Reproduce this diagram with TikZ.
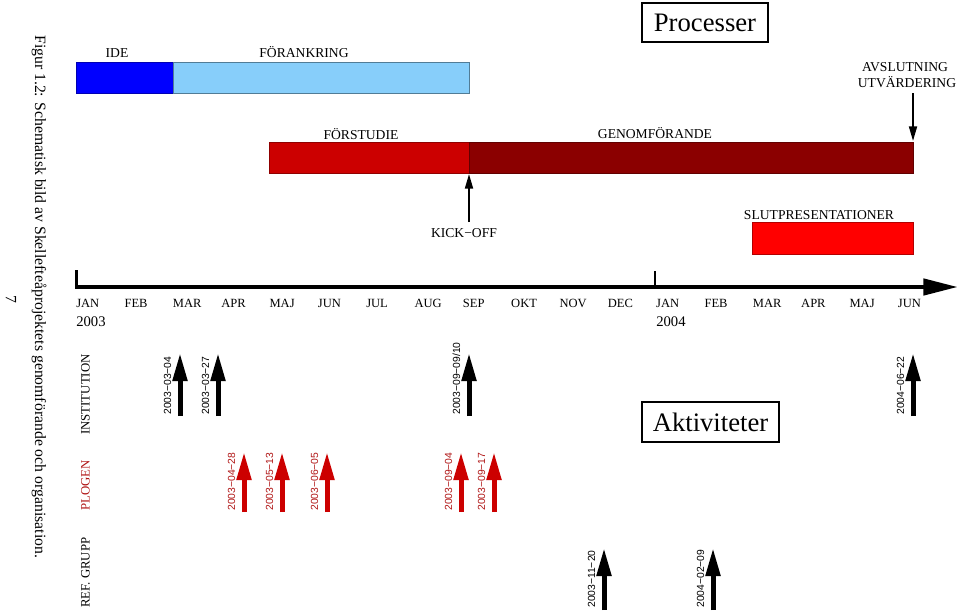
\documentclass[tikz,border=0pt]{standalone}
\usepackage{fontspec}
\setmainfont{Liberation Serif}
\newfontfamily\datefont{Liberation Sans}
\usetikzlibrary{arrows.meta}
\definecolor{idecol}{HTML}{0000FF}
\definecolor{forcol}{HTML}{87CEFA}
\definecolor{fscol}{HTML}{CC0000}
\definecolor{gencol}{HTML}{8B0000}
\definecolor{slutcol}{HTML}{FF0000}
\definecolor{plogcol}{HTML}{CC0000}
\definecolor{plogtext}{HTML}{B01515}
\begin{document}
\begin{tikzpicture}[x=0.75pt,y=-0.75pt,
  lbl/.style={font=\fontsize{10.2pt}{12pt}\selectfont, inner sep=0pt, anchor=base},
  monthlbl/.style={font=\fontsize{9.4pt}{11pt}\selectfont, inner sep=0pt, anchor=base west},
  yearlbl/.style={font=\fontsize{11pt}{13pt}\selectfont, inner sep=0pt, anchor=base west},
  rowlbl/.style={font=\fontsize{9.6pt}{11pt}\selectfont, inner sep=0pt, rotate=90, anchor=base west},
  datelbl/.style={font=\datefont\fontsize{7.75pt}{9pt}\selectfont, inner sep=0pt, rotate=90, anchor=base west},
  bigarrow/.style={line width=3.75pt, -{Triangle[length=21pt,width=10.5pt]}},
  thinarrow/.style={line width=1.4pt, -{Triangle[length=11pt,width=6pt]}},
  bar/.style={line width=0.4pt},
  titlebox/.style={draw, line width=1.5pt, font=\fontsize{20pt}{23pt}\selectfont, inner sep=0pt}
]
\useasboundingbox (0,0) rectangle (959,610);

% caption and page number
\node[font=\fontsize{11.8pt}{14pt}\selectfont, inner sep=0pt, rotate=-90, anchor=base west] (caption) at (35,35)
  {Figur 1.2: Schematisk bild av Skellefteåprojektets genomförande och organisation.};
\node[font=\fontsize{11.8pt}{14pt}\selectfont, inner sep=0pt, rotate=-90, anchor=base] (pagenum) at (6,299) {7};

% title boxes
\node[titlebox, minimum width=94pt, minimum height=29pt] (proc) at (705,22.5) {Processer};
\node[titlebox, minimum width=102.5pt, minimum height=30pt] (akt) at (710.5,422) {Aktiviteter};

% process bars
\filldraw[bar, fill=idecol, draw=idecol!70!black] (76,62) rectangle (173,93);
\filldraw[bar, fill=forcol, draw=forcol!60!black] (173,62) rectangle (469,93);
\filldraw[bar, fill=fscol, draw=fscol!70!black] (269,142) rectangle (469,173);
\filldraw[bar, fill=gencol, draw=gencol!70!black] (469,142) rectangle (913,173);
\filldraw[bar, fill=slutcol, draw=slutcol!70!black] (752,222) rectangle (913,254);

\node[lbl] (ide) at (117,58) {IDE};
\node[lbl] (forank) at (304,58) {FÖRANKRING};
\node[lbl] (forst) at (361,139) {FÖRSTUDIE};
\node[lbl] (genom) at (655,138) {GENOMFÖRANDE};
\node[lbl] (slut) at (819,219) {SLUTPRESENTATIONER};
\node[lbl] (avsl) at (905,71) {AVSLUTNING};
\node[lbl] (utv) at (907,87) {UTVÄRDERING};
\node[lbl] (kick) at (464,237) {KICK−OFF};

\coordinate (kickbase) at (469,222);
\coordinate (kicktip) at (469,174);
\draw[thinarrow] (kickbase) -- (kicktip);
\coordinate (avslbase) at (913,93);
\coordinate (avsltip) at (913,141);
\draw[thinarrow] (avslbase) -- (avsltip);

% time axis
\coordinate (axstart) at (75,287);
\coordinate (axend) at (958,287);
\draw[line width=3.4pt, -{Triangle[length=26pt,width=12pt]}] (axstart) -- (axend);
\coordinate (tickA1) at (76.3,270);
\coordinate (tickA2) at (76.3,288);
\draw[line width=2pt] (tickA1) -- (tickA2);
\coordinate (tickB1) at (655,271);
\coordinate (tickB2) at (655,287);
\draw[line width=1.2pt] (tickB1) -- (tickB2);

\foreach \m [count=\i from 0] in {JAN,FEB,MAR,APR,MAJ,JUN,JUL,AUG,SEP,OKT,NOV,DEC,JAN,FEB,MAR,APR,MAJ,JUN}
  \node[monthlbl] (month\i) at ({76+48.33*\i},307) {\m};
\node[yearlbl] (y2003) at (76,326) {2003};
\node[yearlbl] (y2004) at (656,326) {2004};

% row labels
\node[rowlbl] (rinst) at (89.5,435) {INSTITUTION};
\node[rowlbl, text=plogtext] (rplog) at (89.5,511) {PLOGEN};
\node[rowlbl] (rref) at (89.5,608) {REF. GRUPP};

% institution arrows
\foreach \x/\d [count=\i] in {180/{2003−03−04}, 218/{2003−03−27}, 469/{2003−09−09/10}, 913/{2004−06−22}} {
  \coordinate (ib\i) at (\x,416);
  \coordinate (it\i) at (\x,353);
  \draw[bigarrow] (ib\i) -- (it\i);
  \node[datelbl] (il\i) at (\x-9,415) {\d};
}
% plogen arrows
\foreach \x/\d [count=\i] in {244/{2003−04−28}, 282/{2003−05−13}, 327/{2003−06−05}, 461/{2003−09−04}, 494/{2003−09−17}} {
  \coordinate (pb\i) at (\x,512);
  \coordinate (pt\i) at (\x,452);
  \draw[bigarrow, draw=plogcol, fill=plogcol] (pb\i) -- (pt\i);
  \node[datelbl, text=plogtext] (pl\i) at (\x-9,511) {\d};
}
% ref grupp arrows
\foreach \x/\d [count=\i] in {604/{2003−11−20}, 713/{2004−02−09}} {
  \coordinate (rb\i) at (\x,610);
  \coordinate (rt\i) at (\x,548);
  \draw[bigarrow] (rb\i) -- (rt\i);
  \node[datelbl] (rl\i) at (\x-9,608) {\d};
}
\end{tikzpicture}
\end{document}
